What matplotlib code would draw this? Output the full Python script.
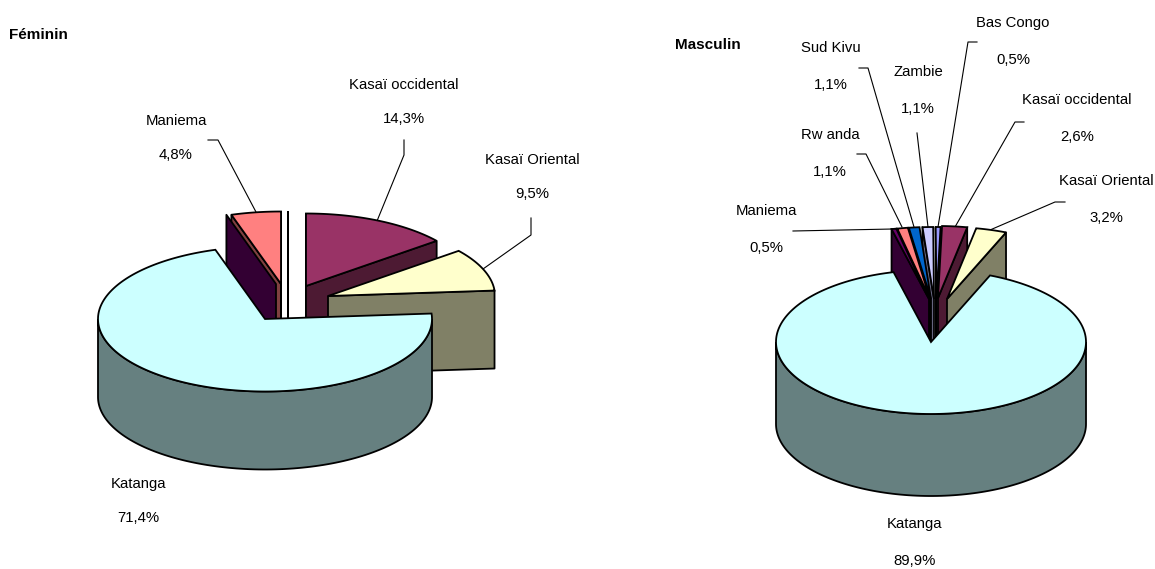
import numpy as np
import matplotlib
matplotlib.use('Agg')
from matplotlib import pyplot as plt
from matplotlib import colors as mcolors
from matplotlib.patches import Polygon

names = ['Kasaï occidental', 'Kasaï Oriental', 'Katanga', 'Maniema', 'Rw anda', 'Sud Kivu', 'Zambie', 'Bas Congo']
feminin = [14.3, 9.5, 71.4, 0, 4.8, 0, 0, 0]
masculin = [2.6, 3.2, 89.9, 0.5, 1.1, 1.1, 1.1, 0.5]

colors_m = ['#993366', '#FFFFCC', '#CCFFFF', '#660066', '#FF8080', '#0066CC', '#CCCCFF', '#9999FF']

# how far each slice is pulled out of the pie, pixels
explode_f = [(41, -33), (63, -23), (0, 0), (11, -35), (16, -35), (16, -35), (16, -35), (23, -35)]
explode_m = [(7, -44), (16, -43), (0, 0), (-2, -43), (-1, -43), (0, -43), (3, -43), (5.5, -43)]

# back to front
order = [7, 6, 5, 0, 1, 4, 3, 2]

labels_f = [('Maniema', '4,8%', 176, 121),
            ('Kasaï occidental', '14,3%', 404, 85),
            ('Kasaï Oriental', '9,5%', 532, 160),
            ('Katanga', '71,4%', 138, 484)]
labels_m = [('Sud Kivu', '1,1%', 831, 48),
            ('Zambie', '1,1%', 918, 72),
            ('Bas Congo', '0,5%', 1013, 23),
            ('Kasaï occidental', '2,6%', 1077, 100),
            ('Kasaï Oriental', '3,2%', 1106, 181),
            ('Rw anda', '1,1%', 830, 135),
            ('Maniema', '0,5%', 766, 211),
            ('Katanga', '89,9%', 915, 524)]

leaders = [[(208, 140), (218, 140), (256, 212)],
           [(404, 140), (404, 155), (377, 221)],
           [(531, 218), (531, 235), (483, 269)],
           [(859, 68), (868, 68), (914, 227)],
           [(857, 154), (866, 154), (902, 227)],
           [(917, 133), (928, 227)],
           [(977, 42), (968, 42), (938, 227)],
           [(1024, 122), (1015, 122), (955, 227)],
           [(1065, 202), (1055, 202), (990, 230)],
           [(793, 231), (893, 229)]]

fig = plt.figure(figsize=(11.55, 5.69), dpi=100)
ax = fig.add_axes([0, 0, 1, 1])
ax.set_xlim(0, 1155)
ax.set_ylim(569, 0)
ax.axis('off')

LW = 1.3
FONT = 'Liberation Sans'


def ell(cx, cy, rx, ry, t):
    # t in degrees, clockwise from the top
    t = np.radians(t)
    return cx + rx*np.sin(t), cy - ry*np.cos(t)


def draw_pie(values, explode, cx, cy, rx, ry, depth, rot):
    starts = rot + np.concatenate([[0], np.cumsum(values)[:-1]]) * 3.6 * 100 / sum(values)
    ends = starts + np.array(values) * 3.6 * 100 / sum(values)
    z = 3
    for i in order:
        t1, t2 = starts[i], ends[i]
        x0 = cx + explode[i][0]
        y0 = cy + explode[i][1]
        top = mcolors.to_rgb(colors_m[i])
        side = tuple(c/2 for c in top)
        # flat cut faces
        for t, show in [(t1, 180 <= t1 % 360 or t1 % 360 == 0), (t2, t2 % 360 < 180)]:
            if show:
                ex, ey = ell(x0, y0, rx, ry, t)
                pts = [(x0, y0), (ex, ey), (ex, ey+depth), (x0, y0+depth)]
                ax.add_patch(Polygon(pts, closed=True, fc=side, ec='black', lw=LW, zorder=z, joinstyle='round'))
                z += 1
        # rounded outer wall
        a = max(t1, 90)
        b = min(t2, 270)
        if b > a:
            tt = np.linspace(a, b, 120)
            xs, ys = ell(x0, y0, rx, ry, tt)
            pts = list(zip(xs, ys)) + list(zip(xs[::-1], ys[::-1]+depth))
            ax.add_patch(Polygon(pts, closed=True, fc=side, ec='black', lw=LW, zorder=z))
            z += 1
        # top of the slice
        if t2 > t1:
            tt = np.linspace(t1, t2, 200)
            xs, ys = ell(x0, y0, rx, ry, tt)
            pts = [(x0, y0)] + list(zip(xs, ys))
            ax.add_patch(Polygon(pts, closed=True, fc=top, ec='black', lw=LW, zorder=z))
            z += 1
    return z


draw_pie(feminin, explode_f, 265, 319, 167, 72.5, 78, 0)
draw_pie(masculin, explode_m, 931, 342, 155, 72, 82, 1.5)

for pts in leaders:
    xs = [p[0] for p in pts]
    ys = [p[1] for p in pts]
    ax.plot(xs, ys, color='black', lw=0.8, zorder=2)

for name, pct, x, y in labels_f + labels_m:
    dy = 34 if x < 600 else 37
    ax.text(x, y, name, ha='center', va='center', fontsize=10.7, family=FONT)
    ax.text(x, y+dy, pct, ha='center', va='center', fontsize=10.7, family=FONT)

ax.text(9, 35, 'Féminin', ha='left', va='center', fontsize=11, fontweight='bold', family=FONT)
ax.text(675, 45, 'Masculin', ha='left', va='center', fontsize=11, fontweight='bold', family=FONT)

fig.savefig('out.png', dpi=100)
